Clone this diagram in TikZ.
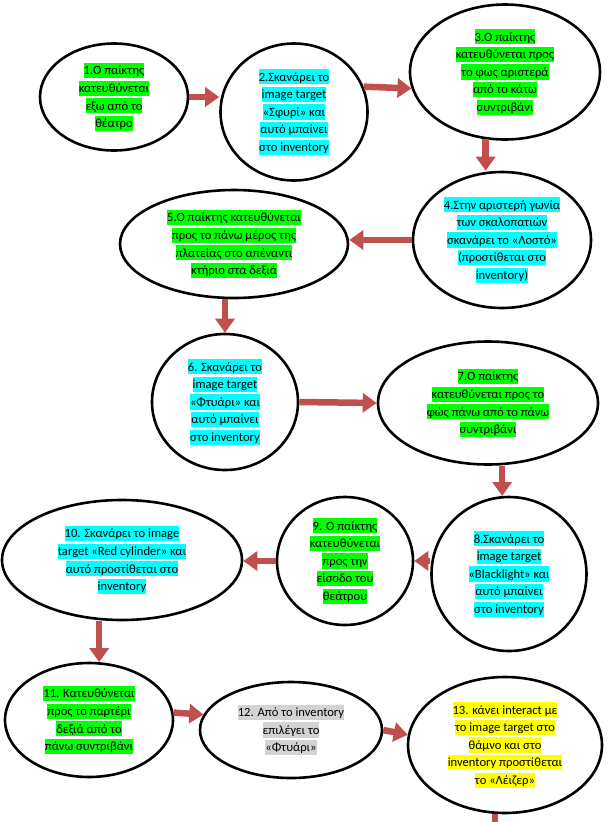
\documentclass[tikz,border=0pt]{standalone}
\usepackage{fontspec}
\setmainfont{Carlito}
\usetikzlibrary{arrows.meta, shapes.geometric}
\definecolor{cred}{HTML}{C0504D}
\definecolor{cgreen}{HTML}{00FF00}
\definecolor{ccyan}{HTML}{00FFFF}
\definecolor{cyellow}{HTML}{FFFF00}
\definecolor{cgrey}{HTML}{D3D3D3}
\setlength{\fboxsep}{0pt}
\newcommand{\hlt}[2]{\colorbox{#1}{\rule[-3.4pt]{0pt}{15.2pt}#2}}
\tikzset{
  every picture/.style={line width=2.6pt},
  stage/.style={ellipse, draw=black, fill=white, inner sep=0pt, align=center, font=\fontsize{12.6}{17.6}\selectfont},
  arrow/.style={-{Triangle[width=19pt, length=14pt]}, draw=cred, line width=6.5pt},
  shaft/.style={draw=cred, line width=6.5pt},
}

\begin{document}
\begin{tikzpicture}[x=1pt, y=-1pt]
  \useasboundingbox (0,0) rectangle (609,822);
  \node[stage, minimum width=148, minimum height=107] (s1) at (114,97) {\hlt{cgreen}{1.Ο παίκτης}\\\hlt{cgreen}{κατευθύνεται}\\\hlt{cgreen}{εξω από το}\\\hlt{cgreen}{θέατρο}};
  \node[stage, minimum width=147, minimum height=137] (s2) at (294,112) {\hlt{ccyan}{2.Σκανάρει το}\\\hlt{ccyan}{image target}\\\hlt{ccyan}{«Σφυρί» και}\\\hlt{ccyan}{αυτό μπαίνει}\\\hlt{ccyan}{στο inventory}};
  \node[stage, minimum width=190, minimum height=135] (s3) at (505,72) {\hlt{cgreen}{3.Ο παίκτης}\\\hlt{cgreen}{κατευθύνεται προς}\\\hlt{cgreen}{το φως αριστερά}\\\hlt{cgreen}{από το κάτω}\\\hlt{cgreen}{συντριβάνι}};
  \node[stage, minimum width=178, minimum height=136] (s4) at (502,240) {\hlt{ccyan}{4.Στην αριστερή γωνία}\\\hlt{ccyan}{των σκαλοπατιών}\\\hlt{ccyan}{σκανάρει το «Λοστό»}\\\hlt{ccyan}{(προστίθεται στο}\\\hlt{ccyan}{inventory)}};
  \node[stage, minimum width=228, minimum height=108] (s5) at (234,244) {\hlt{cgreen}{5.Ο παίκτης κατευθύνεται}\\\hlt{cgreen}{προς το πάνω μέρος της}\\\hlt{cgreen}{πλατείας στο απέναντι}\\\hlt{cgreen}{κτήριο στα δεξιά}};
  \node[stage, minimum width=146, minimum height=136] (s6) at (225,402) {\hlt{ccyan}{6. Σκανάρει το}\\\hlt{ccyan}{image target}\\\hlt{ccyan}{«Φτυάρι» και}\\\hlt{ccyan}{αυτό μπαίνει}\\\hlt{ccyan}{στο inventory}};
  \node[stage, minimum width=220, minimum height=123] (s7) at (488,403) {\hlt{cgreen}{7.Ο παίκτης}\\\hlt{cgreen}{κατευθύνεται προς το}\\\hlt{cgreen}{φώς πάνω από το πάνω}\\\hlt{cgreen}{συντριβάνι}};
  \node[stage, minimum width=155, minimum height=154] (s8) at (509,574) {\hlt{ccyan}{8.Σκανάρει το}\\\hlt{ccyan}{image target}\\\hlt{ccyan}{«Blacklight» και}\\\hlt{ccyan}{αυτό μπαίνει}\\\hlt{ccyan}{στο inventory}};
  \node[stage, minimum width=136, minimum height=128] (s9) at (345,561) {\hlt{cgreen}{9. Ο παίκτης}\\\hlt{cgreen}{κατευθύνεται}\\\hlt{cgreen}{προς την}\\\hlt{cgreen}{είσοδο του}\\\hlt{cgreen}{θεάτρου}};
  \node[stage, minimum width=240, minimum height=120] (s10) at (122,560) {\hlt{ccyan}{10. Σκανάρει το image}\\\hlt{ccyan}{target «Red cylinder» και}\\\hlt{ccyan}{αυτό προστίθεται στο}\\\hlt{ccyan}{inventory}};
  \node[stage, minimum width=168, minimum height=114] (s11) at (89,720) {\hlt{cgreen}{11. Κατευθύνεται}\\\hlt{cgreen}{προς το παρτέρι}\\\hlt{cgreen}{δεξιά από το}\\\hlt{cgreen}{πάνω συντριβάνι}};
  \node[stage, minimum width=182, minimum height=96] (s12) at (291,730) {\hlt{cgrey}{12. Από το inventory}\\\hlt{cgrey}{επιλέγει το}\\\hlt{cgrey}{«Φτυάρι»}};
  \node[stage, minimum width=194, minimum height=136] (s13) at (505,745) {\hlt{cyellow}{13. κάνει interact με}\\\hlt{cyellow}{το image target στο}\\\hlt{cyellow}{θάμνο και στο}\\\hlt{cyellow}{inventory προστίθεται}\\\hlt{cyellow}{το «Λέιζερ»}};
  \coordinate (out) at (495,822);
  \draw[arrow] (s1.east) -- (s1.east -| s2.west);
  \draw[arrow] (s2.20) -- (s3.190);
  \draw[arrow] (s3.254) -- (s3.254 |- s4.north);
  \draw[arrow] (s4.west) -- (s4.west -| s5.east);
  \draw[arrow] (s5.south -| s6.north) -- (s6.north);
  \draw[arrow] (s6.east) -- (s7.west);
  \draw[arrow] (s8.95 |- s7.south) -- (s8.95);
  \draw[arrow] (s8.west |- s9.east) -- (s9.east);
  \draw[arrow] (s9.west) -- (s9.west -| s10.east);
  \draw[arrow] (s11.80 |- s10.south) -- (s11.80);
  \draw[arrow] (s11.5) -- (s12.170);
  \draw[arrow] (s12.east) -- (s13.174);
  \draw[shaft] (out |- s13.south) -- (out);
\end{tikzpicture}
\end{document}
